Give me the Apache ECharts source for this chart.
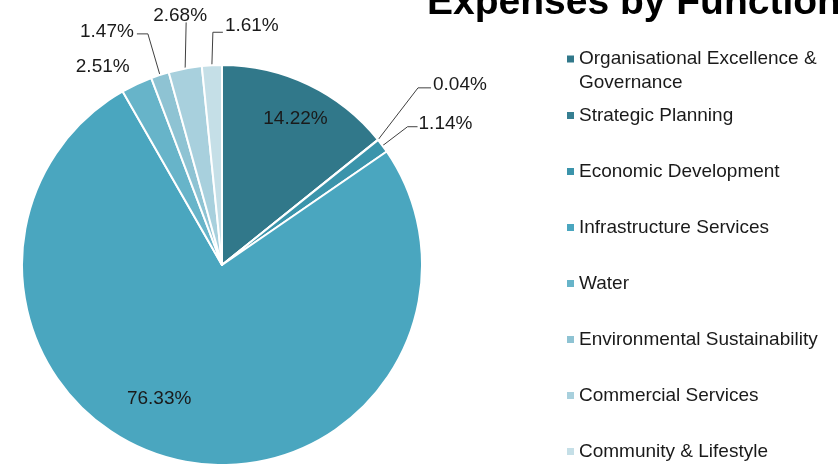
<!DOCTYPE html>
<html>
<head>
<meta charset="utf-8">
<script src="https://cdn.jsdelivr.net/npm/echarts@6/dist/echarts.min.js"></script>
<style>
html,body{margin:0;padding:0;background:#fff;}
#chart{width:838px;height:464px;}
</style>
</head>
<body>
<div id="chart"></div>
<script>
const titleText = 'Expenses by Function';
const categories = [
  'Organisational Excellence & Governance',
  'Strategic Planning',
  'Economic Development',
  'Infrastructure Services',
  'Water',
  'Environmental Sustainability',
  'Commercial Services',
  'Community & Lifestyle'
];
const values = [14.22, 0.04, 1.14, 76.33, 2.51, 1.47, 2.68, 1.61];
const colors = ['#31788a', '#367f92', '#3b94ab', '#4aa6bf', '#67b4c9', '#8ec3d3', '#a8d0dd', '#c5dfe7'];

const FONT = 'Liberation Sans, Arial, sans-serif';

// Label placement (styling only): offsets relative to the library-computed anchor points.
const labelPlacement = {
  0: {inside: true, dx: 29, dy: -53},
  1: {elbow: [40, -52], end: [53, -52], text: [55, -55], align: 'left'},
  2: {elbow: [25, -19], end: [35, -19], text: [36, -22], align: 'left'},
  3: {inside: true, dx: -40, dy: 33},
  4: {noLine: true, text: [-7, -17], align: 'right'},
  5: {elbow: [-12, -41], end: [-23, -41], text: [-26, -43], align: 'right'},
  6: {elbow: [1, -46], end: [1, -46], text: [-5, -53], align: 'center'},
  7: {elbow: [1, -33], end: [11, -33], text: [13, -39], align: 'left'}
};

const chart = echarts.init(document.getElementById('chart'), null, {renderer: 'canvas'});

const data = categories.map((name, i) => {
  const pl = labelPlacement[i] || {};
  return {
    name: name,
    value: values[i],
    itemStyle: {color: colors[i]},
    label: {position: pl.inside ? 'inside' : 'outside'},
    labelLine: {show: !pl.inside && !pl.noLine}
  };
});

const option = {
  animation: false,
  backgroundColor: '#fff',
  title: {
    text: titleText,
    left: 427,
    top: -16,
    padding: 0,
    textStyle: {fontFamily: FONT, fontSize: 39, fontWeight: 'bold', color: '#000'}
  },
  legend: [
    {
      orient: 'vertical',
      left: 567,
      top: 47,
      padding: 0,
      itemWidth: 7,
      itemHeight: 31,
      icon: 'path://M0,0h7v7h-7zM0,31',
      itemStyle: {borderWidth: 0},
      data: [categories[0]],
      formatter: () => 'Organisational Excellence &\nGovernance',
      textStyle: {fontFamily: FONT, fontSize: 19, lineHeight: 24, color: '#1a1a1a'}
    },
    {
      orient: 'vertical',
      left: 567,
      top: 104,
      padding: 0,
      itemGap: 33,
      itemWidth: 7,
      itemHeight: 7,
      icon: 'rect',
      itemStyle: {borderWidth: 0},
      data: categories.slice(1),
      textStyle: {fontFamily: FONT, fontSize: 19, lineHeight: 23, color: '#1a1a1a'}
    }
  ],
  series: [{
    type: 'pie',
    center: [222, 265],
    radius: [0, 200],
    startAngle: 90,
    clockwise: true,
    avoidLabelOverlap: false,
    data: data,
    itemStyle: {borderColor: '#fff', borderWidth: 2},
    label: {
      formatter: p => p.value.toFixed(2) + '%',
      fontFamily: FONT,
      fontSize: 19,
      color: '#1a1a1a'
    },
    labelLine: {length: 15, length2: 12, lineStyle: {color: '#404040', width: 1}},
    labelLayout: function (params) {
      const pl = labelPlacement[params.dataIndex];
      if (!pl) return {};
      if (pl.inside) return {dx: pl.dx, dy: pl.dy};
      const p0 = params.labelLinePoints ? params.labelLinePoints[0] : null;
      if (!p0) return {};
      const res = {
        x: p0[0] + pl.text[0],
        y: p0[1] + pl.text[1],
        align: pl.align,
        verticalAlign: 'middle'
      };
      if (!pl.noLine) {
        res.labelLinePoints = [
          [p0[0], p0[1]],
          [p0[0] + pl.elbow[0], p0[1] + pl.elbow[1]],
          [p0[0] + pl.end[0], p0[1] + pl.end[1]]
        ];
      }
      return res;
    },
    emphasis: {disabled: true}
  }]
};
chart.setOption(option);
</script>
</body>
</html>
